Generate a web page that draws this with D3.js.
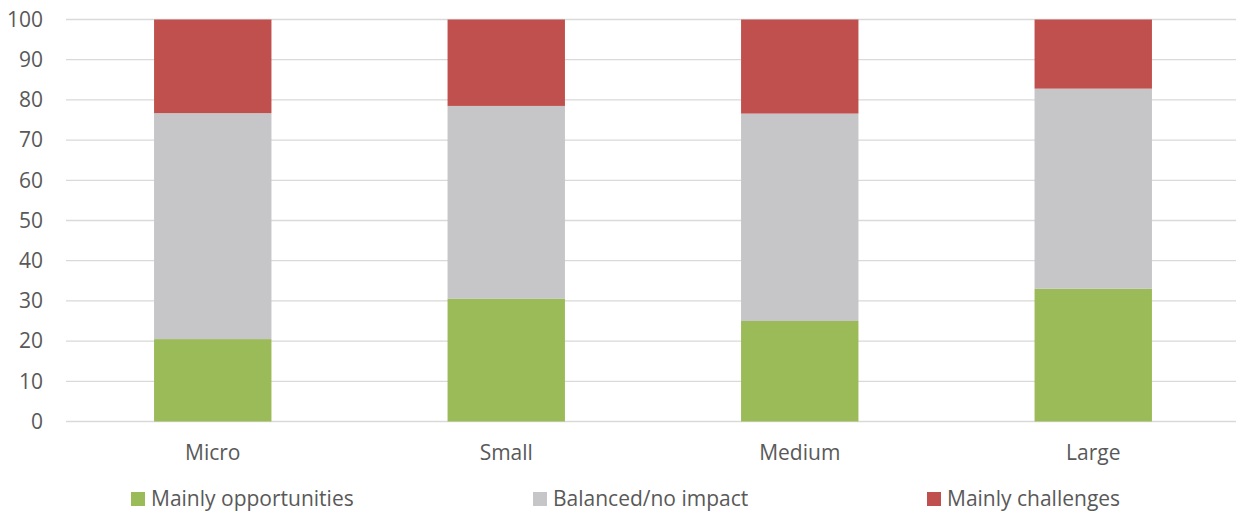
<!DOCTYPE html>
<html><head><meta charset="utf-8">
<script src="https://cdn.jsdelivr.net/npm/d3@7"></script>
<style>body{margin:0;background:#fff}text{font-family:"Open Sans","Noto Sans",sans-serif;fill:#595959}</style>
</head><body><svg id="c" width="1236" height="512"></svg>
<script>
const categories = ["Micro","Small","Medium","Large"];
const seriesNames = ["Mainly opportunities","Balanced/no impact","Mainly challenges"];
const opportunities = [20.5, 30.5, 25.0, 33.0];
const balanced = [56.2, 48.0, 51.6, 49.8];
const challenges = [23.3, 21.5, 23.4, 17.2];
const yTicks = [0,10,20,30,40,50,60,70,80,90,100];
const colors = ["#9bbb59","#c6c6c8","#c0504d"];

const svg = d3.select("#c");
const x = d3.scaleBand().domain(categories).range([66,1240]).paddingInner(0.6).paddingOuter(0.3);
const y = d3.scaleLinear().domain([0,100]).range([421.5,19.5]);

const rows = categories.map((c,i)=>({cat:c, a:opportunities[i], b:balanced[i], c:challenges[i]}));
const stack = d3.stack().keys(["a","b","c"])(rows);

svg.append("g").selectAll("line").data(yTicks).join("line")
 .attr("x1",66).attr("x2",1240).attr("y1",d=>y(d)).attr("y2",d=>y(d))
 .attr("stroke","#d9d9d9").attr("stroke-width",1.3);

svg.append("g").selectAll("text").data(yTicks).join("text")
 .attr("x",43).attr("y",d=>y(d)).attr("dy","0.35em").attr("text-anchor","end")
 .attr("font-size",21).text(d=>d);

stack.forEach((s,si)=>{
  svg.append("g").selectAll("rect").data(s).join("rect")
   .attr("x",d=>x(d.data.cat)).attr("width",x.bandwidth())
   .attr("y",d=>y(d[1])).attr("height",d=>y(d[0])-y(d[1]))
   .attr("fill",colors[si]);
});

svg.append("g").selectAll("text").data(categories).join("text")
 .attr("x",d=>x(d)+x.bandwidth()/2).attr("y",453).attr("dy","0.35em")
 .attr("text-anchor","middle").attr("font-size",21).text(d=>d);

const legX = [131,533,927];
const leg = svg.append("g").selectAll("g").data(seriesNames).join("g")
 .attr("transform",(d,i)=>`translate(${legX[i]},492)`);
leg.append("rect").attr("width",14).attr("height",14).attr("fill",(d,i)=>colors[i]);
leg.append("text").attr("x",20).attr("y",7).attr("dy","0.35em").attr("font-size",21).text(d=>d);
</script></body></html>
